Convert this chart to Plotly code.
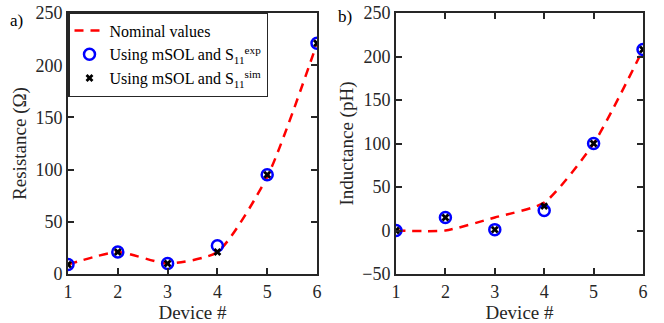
import plotly.graph_objects as go

devices = [1, 2, 3, 4, 5, 6]
res_nominal = [9, 21, 10, 21, 93, 221]
res_exp = [9, 21, 10, 27, 95, 221]
res_sim = [9, 21, 10, 21, 95, 221]
ind_nominal = [0, 0, 15, 32, 100, 208]
ind_exp = [0, 15, 1, 23, 100, 208]
ind_sim = [0, 15, 1, 28, 100, 208]

FONT = "Liberation Serif"
W, H = 664, 323
fig = go.Figure()

def add_panel(xa, ya, nom, exp, sim, show):
    fig.add_trace(go.Scatter(x=devices, y=nom, mode="lines", line=dict(color="#ff0000", width=2.5, dash="9px,7px", shape="spline", smoothing=0.6),
                             name="Nominal values", xaxis=xa, yaxis=ya, showlegend=show))
    fig.add_trace(go.Scatter(x=devices, y=exp, mode="markers", marker=dict(symbol="circle-open", size=11, color="#0000ff", line=dict(width=2.5)),
                             name="Using mSOL and S<sub>11</sub><sup>exp</sup>", xaxis=xa, yaxis=ya, showlegend=show))
    fig.add_trace(go.Scatter(x=devices, y=sim, mode="markers", marker=dict(symbol="x", size=7, color="black", line=dict(width=0)),
                             name="Using mSOL and S<sub>11</sub><sup>sim</sup>", xaxis=xa, yaxis=ya, showlegend=show))

add_panel("x", "y", res_nominal, res_exp, res_sim, True)
add_panel("x2", "y2", ind_nominal, ind_exp, ind_sim, False)

axcommon = dict(showgrid=False, zeroline=False, showline=True, linecolor="#262626", linewidth=2,
                mirror="ticks", ticks="inside", ticklen=6, tickwidth=1.5, tickcolor="#262626",
                automargin=False, ticklabeloverflow="allow",
                tickfont=dict(family=FONT, size=18, color="#262626"))
yd = [1 - 274/H, 1 - 13/H]
fig.update_layout(
    width=W, height=H, margin=dict(l=0, r=0, t=0, b=0),
    paper_bgcolor="white", plot_bgcolor="white",
    font=dict(family=FONT, size=18, color="#262626"),
    xaxis=dict(domain=[68/W, 317/W], range=[1, 6], dtick=1, anchor="y",
               title=dict(text="Device #", font=dict(family=FONT, size=19), standoff=0), **axcommon),
    yaxis=dict(domain=yd, range=[0, 250], dtick=50, anchor="x",
               title=dict(text="Resistance (Ω)", font=dict(family=FONT, size=19), standoff=4), **axcommon),
    xaxis2=dict(domain=[396/W, 643/W], range=[1, 6], dtick=1, anchor="y2",
                title=dict(text="Device #", font=dict(family=FONT, size=19), standoff=0), **axcommon),
    yaxis2=dict(domain=yd, range=[-50, 250], dtick=50, anchor="x2",
                title=dict(text="Inductance (pH)", font=dict(family=FONT, size=19), standoff=4), **axcommon),
    legend=dict(x=68/W, y=1 - 12/H, xanchor="left", yanchor="top", bgcolor="white",
                bordercolor="#262626", borderwidth=1.5, font=dict(family=FONT, size=16, color="black"),
                tracegroupgap=0, itemwidth=30),
    annotations=[
        dict(text="a)", x=8/W, y=1 - 21/H, xref="paper", yref="paper", showarrow=False,
             xanchor="left", yanchor="middle", font=dict(family=FONT, size=17, color="black")),
        dict(text="b)", x=336/W, y=1 - 17/H, xref="paper", yref="paper", showarrow=False,
             xanchor="left", yanchor="middle", font=dict(family=FONT, size=17, color="black")),
    ],
)
fig.write_html("out.html", config={"displayModeBar": False},
               post_script="document.body.style.margin='0';")
